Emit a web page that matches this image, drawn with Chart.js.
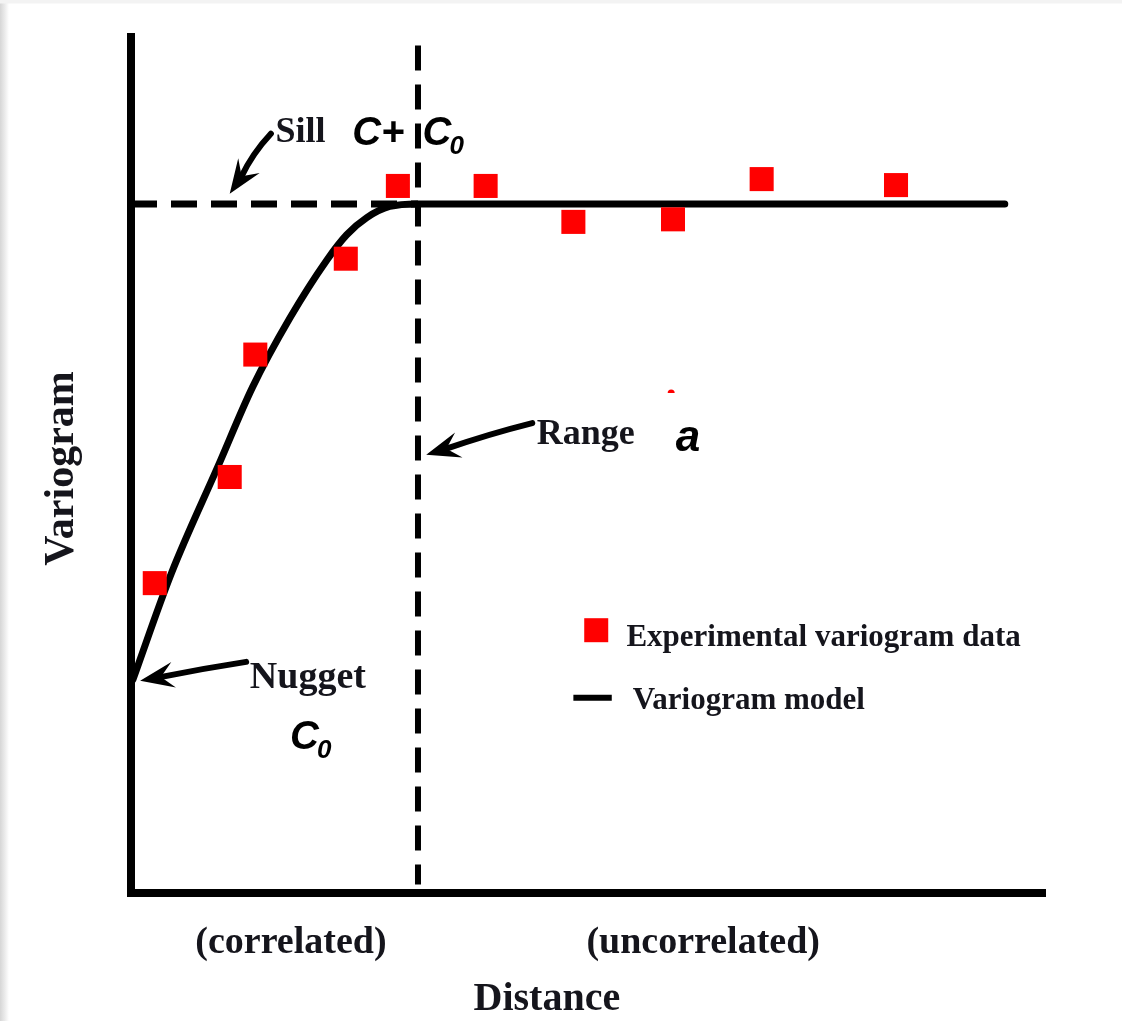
<!DOCTYPE html>
<html>
<head>
<meta charset="utf-8">
<title>Variogram</title>
<script src="https://cdn.jsdelivr.net/npm/chart.js@4.4.1/dist/chart.umd.min.js"></script>
<style>
  html, body { margin: 0; padding: 0; width: 1122px; height: 1021px; overflow: hidden; }
  body {
    background:
      linear-gradient(to bottom, #f3f3f3 0px, #f3f3f3 3px, rgba(255,255,255,0) 4px),
      linear-gradient(to right, #d6d6d6 0px, #ececec 5px, #ffffff 9px);
  }
  #wrap { position: absolute; left: 0; top: 0; }
</style>
</head>
<body>
<div id="wrap"><canvas id="variogramChart" width="1122" height="1021"></canvas></div>
<script>
// experimental variogram (lag distance vs semivariance)
const lagDistance = [0.26, 1.08, 1.36, 2.35, 2.92, 3.88, 4.84, 5.93, 6.90, 8.37];
const semivariance = [3.62, 4.86, 6.29, 7.41, 8.26, 8.26, 7.84, 7.87, 8.34, 8.27];

// fitted model
const modelDistance = [0.02, 0.44, 0.95, 1.33, 1.74, 2.14, 2.36, 2.58, 2.83, 3.14, 9.56];
const modelValue = [2.49, 3.73, 4.98, 5.91, 6.72, 7.39, 7.69, 7.89, 8.02, 8.05, 8.05];

const sill = 8.05;     // C + C0
const range = 3.14;    // a
const rangeTop = 9.9;

const serif = '"Liberation Serif", "DejaVu Serif", serif';
const sans = '"Liberation Sans", Arial, sans-serif';
const ink = "#15151c";

function toPoints(xs, ys) {
  return xs.map((x, i) => ({ x: x, y: ys[i] }));
}

// arrow with a slightly bent shaft (bend = sideways offset of the middle, px)
function drawArrow(ctx, x1, y1, x2, y2, bend) {
  const ang = Math.atan2(y2 - y1, x2 - x1);
  const head = 34;
  const half = 13;
  const bx = x2 - Math.cos(ang) * head * 0.6;
  const by = y2 - Math.sin(ang) * head * 0.6;
  const mx = (x1 + bx) / 2 - Math.sin(ang) * (bend || 0);
  const my = (y1 + by) / 2 + Math.cos(ang) * (bend || 0);
  ctx.save();
  ctx.strokeStyle = "#000";
  ctx.fillStyle = "#000";
  ctx.lineWidth = 6;
  ctx.lineCap = "round";
  ctx.beginPath();
  ctx.moveTo(x1, y1);
  ctx.quadraticCurveTo(mx, my, bx, by);
  ctx.stroke();
  ctx.translate(x2, y2);
  ctx.rotate(ang);
  ctx.beginPath();
  ctx.moveTo(0, 0);
  ctx.lineTo(-head, -half);
  ctx.lineTo(-head * 0.62, 0);
  ctx.lineTo(-head, half);
  ctx.closePath();
  ctx.fill();
  ctx.restore();
}

function drawSymbol(ctx, main, sub, x, y, size) {
  ctx.font = "italic bold " + size + "px " + sans;
  ctx.fillStyle = "#000";
  ctx.textAlign = "left";
  ctx.fillText(main, x, y);
  if (sub) {
    const w = ctx.measureText(main).width;
    ctx.font = "italic bold " + Math.round(size * 0.65) + "px " + sans;
    ctx.fillText(sub, x + w - 2, y + size * 0.22);
  }
}

// labels, arrows and legend, placed in data units
const notesPlugin = {
  id: "notes",
  afterDatasetsDraw(chart) {
    const ctx = chart.ctx;
    const xs = chart.scales.x;
    const ys = chart.scales.y;
    const px = v => xs.getPixelForValue(v);
    const py = v => ys.getPixelForValue(v);

    ctx.save();
    ctx.textBaseline = "alphabetic";

    // serif labels
    ctx.fillStyle = ink;
    ctx.textAlign = "left";
    ctx.font = "bold 36px " + serif;
    ctx.fillText("Sill", px(1.58), py(8.77));
    ctx.fillText("Range", px(4.44), py(5.25));
    ctx.font = "bold 38px " + serif;
    ctx.fillText("Nugget", px(1.30), py(2.39));

    drawSymbol(ctx, "C+", null, px(2.42), py(8.74), 40);
    drawSymbol(ctx, "C", "0", px(3.19), py(8.74), 40);
    drawSymbol(ctx, "a", null, px(5.96), py(5.16), 44);
    drawSymbol(ctx, "C", "0", px(1.74), py(1.68), 40);

    drawArrow(ctx, px(1.53), py(8.87), px(1.08), py(8.17), 4);
    drawArrow(ctx, px(4.39), py(5.49), px(3.23), py(5.12), 2);
    drawArrow(ctx, px(1.26), py(2.70), px(0.10), py(2.48), 1);

    // stray red speck near "a"
    ctx.fillStyle = "#ff0000";
    ctx.beginPath();
    ctx.arc(px(5.91), py(5.84), 3.5, Math.PI, 0);
    ctx.fill();

    // legend
    ctx.fillStyle = "#ff0000";
    ctx.fillRect(px(5.09) - 12, py(3.07) - 12, 24, 24);
    ctx.strokeStyle = "#000";
    ctx.lineWidth = 6;
    ctx.beginPath();
    ctx.moveTo(px(4.84), py(2.28));
    ctx.lineTo(px(5.26), py(2.28));
    ctx.stroke();
    ctx.fillStyle = ink;
    ctx.font = "bold 31px " + serif;
    ctx.fillText("Experimental variogram data", px(5.42), py(2.89));
    ctx.fillText("Variogram model", px(5.49), py(2.15));

    // region labels and axis titles
    ctx.textAlign = "center";
    ctx.font = "bold 38px " + serif;
    ctx.fillText("(correlated)", px(1.75), py(-0.70));
    ctx.fillText("(uncorrelated)", px(6.26), py(-0.70));
    ctx.font = "bold 40px " + serif;
    ctx.fillText("Distance", px(4.55), py(-1.37));

    ctx.translate(px(-0.755), py(4.96));
    ctx.rotate(-Math.PI / 2);
    ctx.font = "bold 42px " + serif;
    ctx.textBaseline = "middle";
    ctx.fillText("Variogram", 0, 0);
    ctx.restore();
  }
};

function renderChart() {
  const ctx = document.getElementById("variogramChart").getContext("2d");

  new Chart(ctx, {
    type: "scatter",
    data: {
      datasets: [
        {
          label: "Experimental variogram data",
          data: toPoints(lagDistance, semivariance),
          pointStyle: "rect",
          pointRadius: 17,
          backgroundColor: "#ff0000",
          borderWidth: 0
        },
        {
          label: "Variogram model",
          data: toPoints(modelDistance, modelValue),
          showLine: true,
          borderColor: "#000",
          borderWidth: 7,
          pointRadius: 0,
          cubicInterpolationMode: "monotone",
          borderCapStyle: "round",
          borderJoinStyle: "round"
        },
        {
          label: "Sill",
          data: [{ x: 0, y: sill }, { x: range, y: sill }],
          showLine: true,
          borderColor: "#000",
          borderWidth: 7,
          borderDash: [26, 14],
          pointRadius: 0
        },
        {
          label: "Range",
          data: [{ x: range, y: rangeTop }, { x: range, y: 0.1 }],
          showLine: true,
          borderColor: "#000",
          borderWidth: 6,
          borderDash: [25, 14],
          pointRadius: 0
        }
      ]
    },
    options: {
      responsive: false,
      devicePixelRatio: 1,
      animation: false,
      layout: {
        padding: { left: 131, right: 77, top: 37, bottom: 128 }
      },
      plugins: {
        legend: { display: false },
        tooltip: { enabled: false }
      },
      scales: {
        x: {
          type: "linear",
          min: 0,
          max: 10,
          ticks: { display: false },
          grid: { display: false, drawTicks: false },
          border: { display: true, color: "#000", width: 8 }
        },
        y: {
          type: "linear",
          min: 0,
          max: 10,
          ticks: { display: false },
          grid: { display: false, drawTicks: false },
          border: { display: true, color: "#000", width: 8 }
        }
      }
    },
    plugins: [notesPlugin]
  });
}

renderChart();
</script>
</body>
</html>
